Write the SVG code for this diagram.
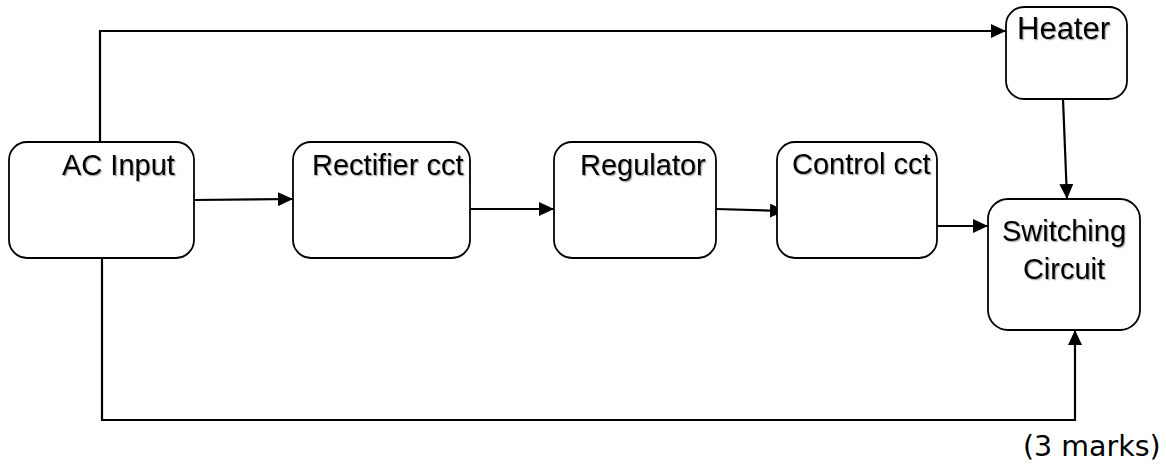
<svg xmlns="http://www.w3.org/2000/svg" width="1166" height="469" viewBox="0 0 1166 469">
  <defs>
    <marker id="arrow" viewBox="0 0 15 14" refX="15" refY="7" markerWidth="15" markerHeight="14" markerUnits="userSpaceOnUse" orient="auto">
      <path d="M0,0 L15,7 L0,14 Z" fill="#000"/>
    </marker>
    <filter id="shadow" x="-10%" y="-20%" width="130%" height="150%">
      <feDropShadow dx="1.2" dy="1.2" stdDeviation="0.6" flood-color="#000" flood-opacity="0.35"/>
    </filter>
  </defs>
  <style>
    .box { fill: #fff; stroke: #000; stroke-width: 1.8; }
    .label { font-family: "Liberation Sans", Arial, sans-serif; font-size: 29px; fill: #000; filter: url(#shadow); }
    .wire { fill: none; stroke: #000; stroke-width: 2.2; }
    .note { font-family: "DejaVu Sans", Verdana, sans-serif; font-size: 28.5px; fill: #000; }
  </style>
  <rect width="1166" height="469" fill="#fff"/>

  <g id="connectors">
    <polyline class="wire" points="100,142 100,31 1006,31" marker-end="url(#arrow)"/>
    <line class="wire" x1="194" y1="200" x2="293" y2="199" marker-end="url(#arrow)"/>
    <line class="wire" x1="470" y1="209" x2="554" y2="209" marker-end="url(#arrow)"/>
    <line class="wire" x1="716" y1="209" x2="785" y2="211" marker-end="url(#arrow)"/>
    <line class="wire" x1="937" y1="226" x2="988" y2="226" marker-end="url(#arrow)"/>
    <line class="wire" x1="1063" y1="99" x2="1067" y2="199" marker-end="url(#arrow)"/>
    <polyline class="wire" points="102,258 102,420 1075,420 1075,330" marker-end="url(#arrow)"/>
  </g>

  <g id="ac-input">
    <rect class="box" x="9" y="142" width="185" height="116" rx="18"/>
    <text class="label" x="62" y="175">AC Input</text>
  </g>

  <g id="rectifier">
    <rect class="box" x="293" y="142" width="177" height="116" rx="18"/>
    <text class="label" x="312" y="175">Rectifier cct</text>
  </g>

  <g id="regulator">
    <rect class="box" x="554" y="142" width="162" height="116" rx="18"/>
    <text class="label" x="580" y="175">Regulator</text>
  </g>

  <g id="control">
    <rect class="box" x="777" y="142" width="160" height="116" rx="18"/>
    <text class="label" x="792" y="174">Control cct</text>
  </g>

  <g id="heater">
    <rect class="box" x="1006" y="7" width="121" height="92" rx="18"/>
    <text class="label" x="1017" y="39" style="font-size:31px">Heater</text>
  </g>

  <g id="switching">
    <rect class="box" x="988" y="199" width="152" height="131" rx="20"/>
    <text class="label" x="1064" y="241" text-anchor="middle">Switching</text>
    <text class="label" x="1064" y="279" text-anchor="middle">Circuit</text>
  </g>

  <text class="note" x="1023" y="456">(3 marks)</text>
</svg>
